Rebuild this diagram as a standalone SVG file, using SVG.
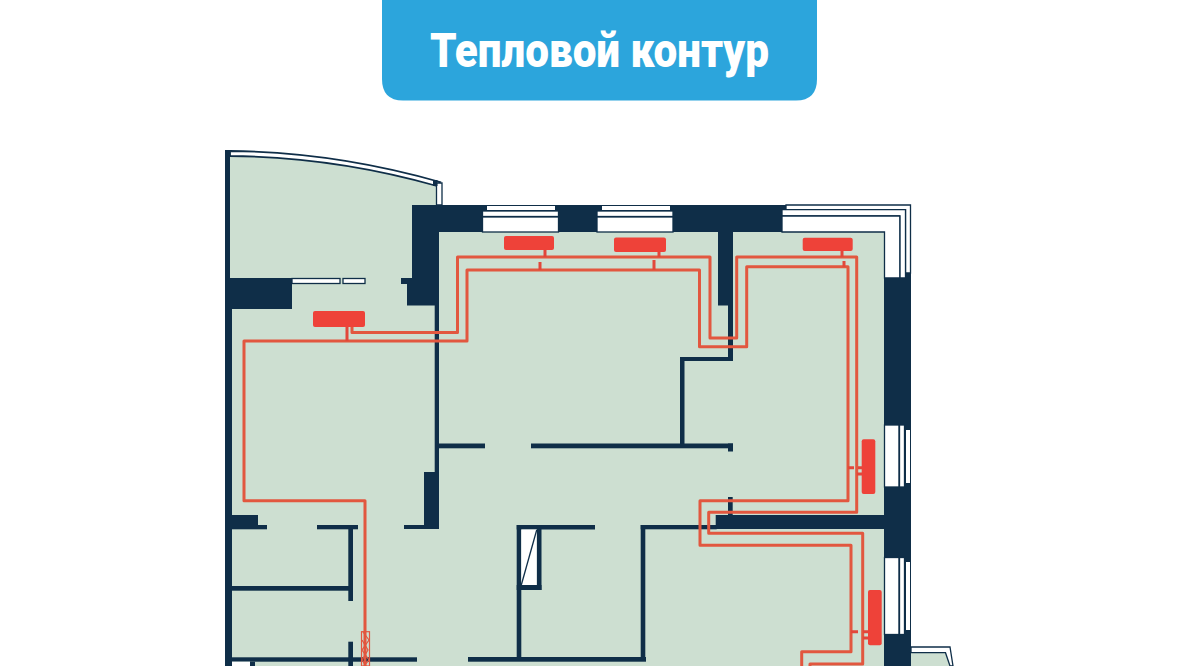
<svg xmlns="http://www.w3.org/2000/svg" width="1200" height="666" viewBox="0 0 1200 666">
<style>
.floor{fill:#cddfd1}
.wall{fill:#0f2e48}
.win{fill:#fff;stroke:#0f2e48;stroke-width:1.300}
.line{fill:none;stroke:#0f2e48}
.pipe{fill:none;stroke:#e2573f;stroke-width:3;stroke-linejoin:round}
.stub{fill:none;stroke:#e2473a;stroke-width:3}
.hatch{fill:none;stroke:#e2573f;stroke-width:1.200}
.rad{fill:#ee4239}
</style>
<rect width="1200" height="666" fill="#fff"/>
<g id="title">
<path d="M382 0H817V79Q817 100.500 796 100.500H403Q382 100.500 382 79Z" fill="#2ca5dc"/>
<text x="599.500" y="67" text-anchor="middle" font-family="Roboto, 'Liberation Sans', sans-serif" font-weight="900" font-size="48" fill="#fff" textLength="339" lengthAdjust="spacingAndGlyphs">Тепловой контур</text>
</g>
<g id="plan">
<path class="floor" d="M225 156Q335 157 437 186V232H884V666H225Z"/>
<path class="floor" d="M911 652H946L952 666H911Z"/>
<g id="balcony-glazing">
<path d="M230 151Q335 152 440 182L437 186Q335 157 230 156Z" fill="#fff" stroke="#0f2e48" stroke-width="1.800"/>
<path d="M436.500 183H442V205H436.500Z" fill="#fff" stroke="#0f2e48" stroke-width="1.300"/>
<rect class="wall" x="433" y="180" width="4.500" height="6"/>
</g>
<g id="walls">
<path class="wall" d="M225 150H230V278H292V309H232V666H225Z"/>
<path class="wall" d="M412 205H786V209H782V232H733V361H684.500V444H680V357H728V305.500H718V232H439V529H404V525H424V472H434.700V305.500H407V284H401V278H412Z"/>
<rect class="wall" x="439" y="443.500" width="46" height="4.800"/>
<rect class="wall" x="531" y="443.500" width="202" height="4.800"/>
<rect class="wall" x="728" y="443.500" width="5" height="8"/>
<rect class="wall" x="232" y="515" width="26" height="14.300"/>
<rect class="wall" x="258" y="525" width="9" height="4.300"/>
<rect class="wall" x="317" y="525" width="41" height="4.300"/>
<rect class="wall" x="348.300" y="529" width="4.700" height="72"/>
<rect class="wall" x="232" y="586" width="118" height="4.700"/>
<rect class="wall" x="232" y="657.300" width="185" height="4.400"/>
<rect class="wall" x="348.300" y="641.700" width="4.700" height="24.300"/>
<rect class="wall" x="468" y="657" width="178" height="4.700"/>
<rect class="wall" x="516.700" y="525" width="4.600" height="133"/>
<rect class="wall" x="516.700" y="525" width="78.300" height="4.500"/>
<rect class="wall" x="536.700" y="525" width="4.800" height="65"/>
<rect class="wall" x="516.700" y="585" width="24.800" height="5"/>
<rect x="521.300" y="529.500" width="15.400" height="55.500" fill="#fff"/>
<path d="M536.700 530L521.300 585" class="line" stroke-width="1.300"/>
<rect class="wall" x="640.700" y="525" width="4.600" height="136"/>
<rect class="wall" x="640.700" y="525" width="76" height="4.300"/>
<rect class="wall" x="715.700" y="515" width="168.300" height="14"/>
<rect class="wall" x="728" y="497" width="4.700" height="18"/>
<rect class="wall" x="884" y="278" width="27" height="388"/>
<rect x="232" y="661.700" width="18" height="5" fill="#fff"/>
<rect class="wall" x="250" y="661.700" width="5" height="5"/>
</g>
<g id="windows">
<rect x="292" y="278.500" width="48" height="5" class="win"/>
<rect x="343" y="278.500" width="22" height="5" class="win"/>
<rect fill="#fff" x="487" y="206" width="68" height="4"/>
<rect class="win" x="482.500" y="211" width="76" height="5.500"/>
<rect class="win" x="482.500" y="217" width="76" height="15"/>
<rect fill="#fff" x="602" y="206" width="68" height="4"/>
<rect class="win" x="597" y="211" width="76" height="5.500"/>
<rect class="win" x="597" y="217" width="76" height="15"/>
<path class="win" d="M786 205H910.500V273H905.500V209.700H786Z"/>
<path class="win" d="M782 209.700H905.500V278H899.800V216H782Z"/>
<path class="win" d="M782 216H899.800V278H884.500V232H782Z"/>
<rect class="wall" x="905" y="273" width="6" height="6"/>
<rect class="win" x="884.500" y="425" width="14.500" height="62"/>
<rect class="win" x="899.500" y="425" width="5" height="62"/>
<rect fill="#fff" x="906" y="430" width="4" height="53"/>
<rect class="win" x="884.500" y="557.500" width="14.500" height="77"/>
<rect class="win" x="899.500" y="557.500" width="5" height="77"/>
<rect fill="#fff" x="906" y="562" width="4" height="68"/>
<path d="M911 647H950L953 666H950L945.500 652.700H911Z" fill="#fff" stroke="#0f2e48" stroke-width="1.300"/>
</g>
</g>
<g id="connectors">
<path class="pipe" d="M352 327V332.500H457.500V257H710V338H736.700V257H856.700V512.300H708.700V533.300H862.700V664H810V666"/>
<path class="pipe" d="M365 666V500.700H244V341H467V270H699.500V346.700H746.700V266.700H848V500.700H700V545.300H851V651.700H801.700V666"/>
<path class="stub" d="M347 327V341M545 250V257M540 262V270M659 252V257M654 260V270M842 251V257M844 261V267M848 467.700H854M858 467.700H862M857 474H862M851 631.700H858M863 631.700H868M863 638H868"/>
<rect x="361.500" y="631.700" width="8" height="34.300" class="hatch"/>
<path class="hatch" d="M363 632L369 640L362 650L369 660L364 666M362 640L368 650L362 660L366 666"/>
</g>
<g id="radiators">
<rect id="rad1" class="rad" x="313" y="311" width="52" height="16" rx="2"/>
<rect id="rad2" class="rad" x="504" y="236" width="50" height="14" rx="2"/>
<rect id="rad3" class="rad" x="614" y="237.500" width="52" height="14.500" rx="2"/>
<rect id="rad4" class="rad" x="802.700" y="237.700" width="50" height="13.300" rx="2"/>
<rect id="rad5" class="rad" x="861.700" y="439.300" width="13.600" height="54.700" rx="2"/>
<rect id="rad6" class="rad" x="868" y="590" width="13.700" height="55.300" rx="2"/>
</g>
</svg>
